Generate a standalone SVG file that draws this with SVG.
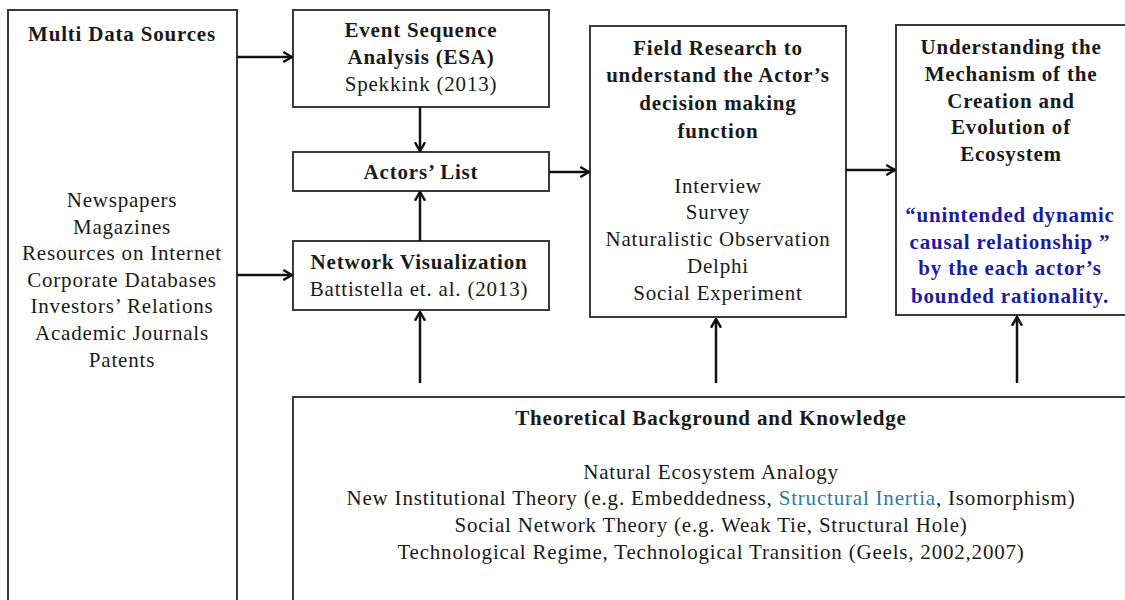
<svg xmlns="http://www.w3.org/2000/svg" width="1125" height="600" viewBox="0 0 1125 600">
  <style>
    .box { fill: #ffffff; stroke: #3a3a3a; stroke-width: 2; }
    .t { font-family: "Liberation Serif", "Times New Roman", serif; font-size: 21px; letter-spacing: 0.8px; fill: #1a1a1a; text-anchor: middle; }
    .b { font-weight: bold; }
    .blue { fill: #1c1ca0; font-weight: bold; }
    .teal { fill: #2f7aa3; }
    .conn { stroke: #111111; stroke-width: 2.5; fill: none; marker-end: url(#head); }
  </style>
  <defs>
    <marker id="head" viewBox="0 0 10 10" refX="9" refY="5" markerWidth="5" markerHeight="5" orient="auto" markerUnits="strokeWidth">
      <path d="M2,1 L9,5 L2,9" fill="none" stroke="#111111" stroke-width="2"/>
    </marker>
  </defs>
  <rect width="1125" height="600" fill="#ffffff"/>

  <g id="multi-data-sources">
    <rect class="box" x="8" y="10" width="229" height="600"/>
    <text class="t b" x="122" y="41">Multi Data Sources</text>
    <text class="t" x="122" y="207">Newspapers</text>
    <text class="t" x="122" y="234">Magazines</text>
    <text class="t" x="122" y="260">Resources on Internet</text>
    <text class="t" x="122" y="287">Corporate Databases</text>
    <text class="t" x="122" y="313">Investors’ Relations</text>
    <text class="t" x="122" y="340">Academic Journals</text>
    <text class="t" x="122" y="367">Patents</text>
  </g>

  <g id="esa">
    <rect class="box" x="293" y="10" width="256" height="97"/>
    <text class="t b" x="421" y="37">Event Sequence</text>
    <text class="t b" x="421" y="64">Analysis (ESA)</text>
    <text class="t" x="421" y="91">Spekkink (2013)</text>
  </g>

  <g id="actors-list">
    <rect class="box" x="293" y="152" width="256" height="39"/>
    <text class="t b" x="421" y="179">Actors’ List</text>
  </g>

  <g id="network-visualization">
    <rect class="box" x="293" y="241" width="256" height="69"/>
    <text class="t b" x="419" y="269">Network Visualization</text>
    <text class="t" x="419" y="296">Battistella et. al. (2013)</text>
  </g>

  <g id="field-research">
    <rect class="box" x="590" y="26" width="256" height="291"/>
    <text class="t b" x="718" y="55">Field Research to</text>
    <text class="t b" x="718" y="82">understand the Actor’s</text>
    <text class="t b" x="718" y="110">decision making</text>
    <text class="t b" x="718" y="138">function</text>
    <text class="t" x="718" y="193">Interview</text>
    <text class="t" x="718" y="219">Survey</text>
    <text class="t" x="718" y="246">Naturalistic Observation</text>
    <text class="t" x="718" y="273">Delphi</text>
    <text class="t" x="718" y="300">Social Experiment</text>
  </g>

  <g id="understanding">
    <rect class="box" x="896" y="25" width="240" height="290"/>
    <text class="t b" x="1011" y="54">Understanding the</text>
    <text class="t b" x="1011" y="81">Mechanism of the</text>
    <text class="t b" x="1011" y="108">Creation and</text>
    <text class="t b" x="1011" y="134">Evolution of</text>
    <text class="t b" x="1011" y="161">Ecosystem</text>
    <text class="t blue" x="1010" y="222">“unintended dynamic</text>
    <text class="t blue" x="1010" y="249">causal relationship ”</text>
    <text class="t blue" x="1010" y="275">by the each actor’s</text>
    <text class="t blue" x="1010" y="303">bounded rationality.</text>
  </g>

  <g id="theoretical-background">
    <rect class="box" x="293" y="397" width="840" height="220"/>
    <text class="t b" x="711" y="425">Theoretical Background and Knowledge</text>
    <text class="t" x="711" y="479">Natural Ecosystem Analogy</text>
    <text class="t" x="711" y="505">New Institutional Theory (e.g. Embeddedness, <tspan class="teal">Structural Inertia</tspan>, Isomorphism)</text>
    <text class="t" x="711" y="532">Social Network Theory (e.g. Weak Tie, Structural Hole)</text>
    <text class="t" x="711" y="559">Technological Regime, Technological Transition (Geels, 2002,2007)</text>
  </g>

  <g id="connectors">
    <line class="conn" x1="237" y1="57" x2="292" y2="57"/>
    <line class="conn" x1="237" y1="275" x2="292" y2="275"/>
    <line class="conn" x1="420" y1="107" x2="420" y2="151"/>
    <line class="conn" x1="420" y1="241" x2="420" y2="192"/>
    <line class="conn" x1="549" y1="172" x2="589" y2="172"/>
    <line class="conn" x1="846" y1="170" x2="895" y2="170"/>
    <line class="conn" x1="420" y1="383" x2="420" y2="312"/>
    <line class="conn" x1="716" y1="383" x2="716" y2="319"/>
    <line class="conn" x1="1017" y1="383" x2="1017" y2="317"/>
  </g>
</svg>
